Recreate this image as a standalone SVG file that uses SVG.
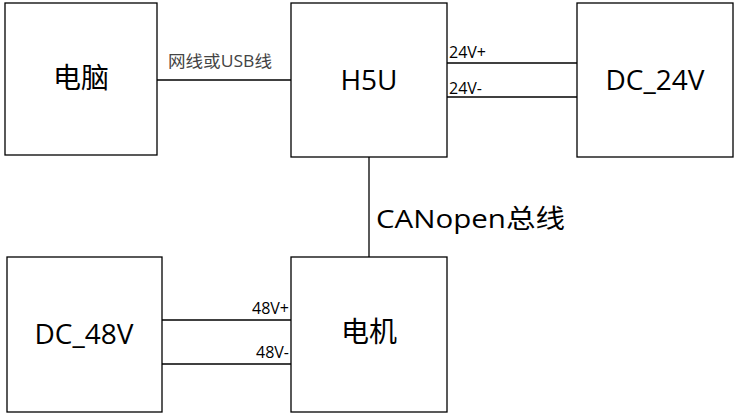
<svg xmlns="http://www.w3.org/2000/svg" width="735" height="417" viewBox="0 0 735 417">
<style>
.box{fill:#fff;stroke:#000;stroke-width:1.3}
.big{font-family:"Open Sans","Noto Sans CJK SC",sans-serif;font-size:28px;text-anchor:middle;fill:#000}
.sm{font-family:"Open Sans","Noto Sans CJK SC",sans-serif;font-size:16px;fill:#000}
.ln{stroke:#000;stroke-width:1.3;fill:none}
</style>
<rect width="735" height="417" fill="#fff"/>
<g id="connectors">
<line class="ln" x1="157" y1="80" x2="291" y2="80"/>
<line class="ln" x1="447" y1="63" x2="577" y2="63"/>
<line class="ln" x1="447" y1="97" x2="577" y2="97"/>
<line class="ln" x1="369" y1="157" x2="369" y2="257"/>
<line class="ln" x1="162" y1="320" x2="291" y2="320"/>
<line class="ln" x1="162" y1="364" x2="291" y2="364"/>
<text class="sm" x="168" y="67" style="fill:#444" textLength="104" lengthAdjust="spacingAndGlyphs">网线或USB线</text>
<text class="sm" x="449" y="58">24V+</text>
<text class="sm" x="449" y="94">24V-</text>
<text class="sm" x="376" y="228" style="font-size:26px" textLength="189" lengthAdjust="spacingAndGlyphs">CANopen总线</text>
<text class="sm" x="289" y="314" text-anchor="end">48V+</text>
<text class="sm" x="289" y="358" text-anchor="end">48V-</text>
</g>
<g id="pc"><rect class="box" x="5" y="3" width="152" height="152"/><text class="big" x="81" y="88">电脑</text></g>
<g id="h5u"><rect class="box" x="291" y="3" width="156" height="154"/><text class="big" x="369" y="90">H5U</text></g>
<g id="dc24"><rect class="box" x="577" y="3" width="156" height="154"/><text class="big" x="655" y="90">DC_24V</text></g>
<g id="dc48"><rect class="box" x="7" y="257" width="155" height="155"/><text class="big" x="84" y="344">DC_48V</text></g>
<g id="motor"><rect class="box" x="291" y="257" width="156" height="155"/><text class="big" x="369" y="342">电机</text></g>
</svg>
